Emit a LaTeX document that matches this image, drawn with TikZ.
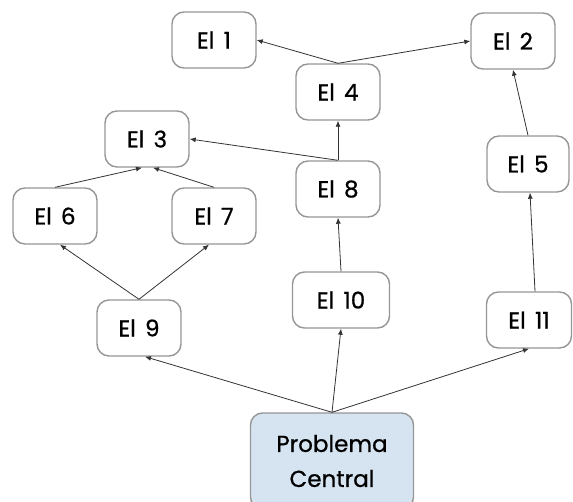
\documentclass[tikz,border=0pt]{standalone}
\usepackage{fontspec}
\setmainfont{Poppins}[WordSpace=1.5]
\usetikzlibrary{arrows.meta,positioning,calc}

\definecolor{boxgray}{RGB}{150,150,150}
\definecolor{coreblue}{RGB}{214,227,240}

\begin{document}
\begin{tikzpicture}[x=1pt,y=-1pt,
    effect/.style={draw=boxgray,line width=1.4pt,rounded corners=12pt,fill=white,
        minimum width=84pt,minimum height=56pt,inner sep=2pt,
        font=\fontsize{23}{26}\selectfont\addfontfeature{FakeBold=0.8}},
    core/.style={effect,fill=coreblue,minimum width=163pt,minimum height=96pt,
        align=center,font=\fontsize{23}{35}\selectfont\addfontfeature{FakeBold=0.8}},
    link/.style={-{Latex[length=6pt,width=5pt]},line width=0.8pt,black!80}]
    \useasboundingbox (0,0) rectangle (573,501);

    % effects
    \node[effect] (e1) at (214,40) {El 1};
    \node[effect] (e2) at (513,41) {El 2};
    \node[effect] (e4) at (338,92) {El 4};
    \node[effect] (e3) at (147,139) {El 3};
    \node[effect] (e8) at (338,189) {El 8};
    \node[effect,minimum width=82pt] (e5) at (528,164) {El 5};
    \node[effect] (e6) at (55,216) {El 6};
    \node[effect] (e7) at (214,216) {El 7};
    \node[effect,minimum width=97pt] (e10) at (341,300) {El 10};
    \node[effect] (e9) at (139,328) {El 9};
    \node[effect,minimum width=85pt] (e11) at (529,320) {El 11};

    % central problem
    \node[core] (pc) at (332,461) {Problema\\Central};

    % links
    \draw[link] (e4.north) -- (e1.east);
    \draw[link] (e4.north) -- (e2.west);
    \draw[link] (e8.north) -- (e4.south);
    \draw[link] (e8.north) -- (e3.east);
    \draw[link] (e10.north) -- (e8.south);
    \draw[link] (e6.north) -- ([xshift=-5pt]e3.south);
    \draw[link] (e7.north) -- ([xshift=6pt]e3.south);
    \draw[link] (e9.north) -- ([xshift=5pt]e6.south);
    \draw[link] (e9.north) -- ([xshift=-5pt]e7.south);
    \draw[link] (e5.north) -- (e2.south);
    \draw[link] ([xshift=6pt]e11.north) -- ([xshift=2pt]e5.south);
    \draw[link] (pc.north) -- ([xshift=6pt]e9.south);
    \draw[link] (pc.north) -- (e10.south);
    \draw[link] (pc.north) -- (e11.south);
\end{tikzpicture}
\end{document}
